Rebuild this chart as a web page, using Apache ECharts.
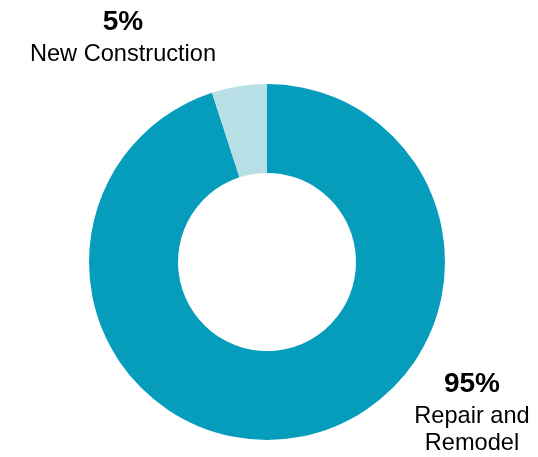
<!DOCTYPE html>
<html>
<head>
<meta charset="utf-8">
<script src="https://cdn.jsdelivr.net/npm/echarts@6/dist/echarts.min.js"></script>
<style>html,body{margin:0;padding:0;background:#fff}#c{width:538px;height:457px}</style>
</head>
<body>
<div id="c"></div>
<script>
const categories = ['Repair and Remodel', 'New Construction'];
const values = [95, 5];
const labelLines = [['Repair and', 'Remodel'], ['New Construction']];
const colors = ['#069dbd', '#b9dfe6'];
const labelPos = [{x: 472, y: 365}, {x: 123, y: 6}];
const FONT = "'Liberation Sans', Arial, Helvetica, sans-serif";

const chart = echarts.init(document.getElementById('c'));
chart.setOption({
  animation: false,
  series: [{
    type: 'pie',
    center: [267, 262],
    radius: [89, 178],
    startAngle: 90,
    clockwise: true,
    silent: true,
    data: categories.map((c, i) => ({name: c, value: values[i], itemStyle: {color: colors[i]}})),
    label: {
      show: true,
      fontFamily: FONT,
      formatter: p => {
        const big = p.dataIndex === 0 ? 'q' : 'p';
        const small = p.dataIndex === 0 ? 'r' : 'n';
        return '{' + big + '|' + values[p.dataIndex] + '%}\n' + labelLines[p.dataIndex].map(s => '{' + small + '|' + s + '}').join('\n');
      },
      rich: {
        p: {fontSize: 28, fontWeight: 'bold', color: '#000', lineHeight: 32, fontFamily: FONT, align: 'center'},
        q: {fontSize: 28, fontWeight: 'bold', color: '#000', lineHeight: 38, fontFamily: FONT, align: 'center'},
        n: {fontSize: 23.6, color: '#000', lineHeight: 32, fontFamily: FONT, align: 'center'},
        r: {fontSize: 23.6, color: '#000', lineHeight: 27, fontFamily: FONT, align: 'center'}
      }
    },
    labelLine: {show: false},
    labelLayout: p => ({x: labelPos[p.dataIndex].x, y: labelPos[p.dataIndex].y, align: 'center', verticalAlign: 'top', moveOverlap: false, hideOverlap: false})
  }]
});
</script>
</body>
</html>
